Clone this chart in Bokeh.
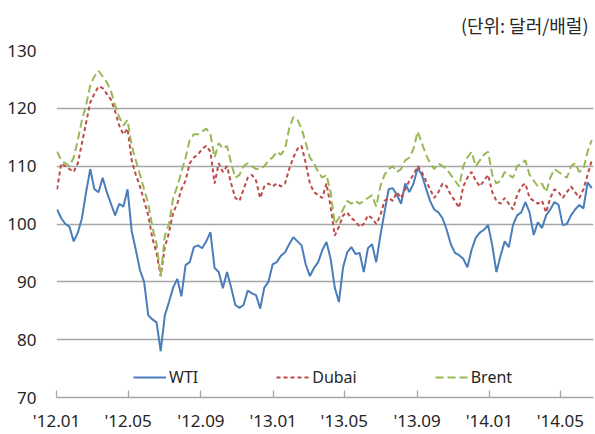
import pandas as pd
from bokeh.plotting import figure
from bokeh.models import (FixedTicker, DatetimeTickFormatter, Legend, LegendItem,
                          Title, Range1d, ColumnDataSource)
from bokeh.embed import file_html
from bokeh.resources import INLINE

# Weekly crude oil prices (USD/bbl), Jan 2012 - Jun 2014
dates = pd.date_range("2012-01-02", periods=130, freq="7D")

wti = [
    102.5, 101.0, 100.0, 99.5, 97.0, 98.5, 101.0, 105.5, 109.5, 106.0,
    105.5, 108.0, 105.5, 103.5, 101.5, 103.5, 103.0, 106.0, 98.8, 95.5,
    92.0, 90.0, 84.2, 83.5, 83.0, 78.0, 84.2, 86.5, 89.0, 90.5,
    87.5, 92.9, 93.4, 96.0, 96.3, 95.8, 97.0, 98.6, 92.4, 91.7,
    88.9, 91.7, 89.0, 86.0, 85.5, 86.0, 88.5, 88.0, 87.7, 85.4,
    89.0, 90.0, 93.0, 93.4, 94.5, 95.1, 96.5, 97.7, 97.0, 96.3,
    93.0, 91.0, 92.4, 93.4, 95.5, 96.9, 94.0, 89.0, 86.5, 92.5,
    95.1, 96.0, 94.8, 95.0, 91.7, 95.8, 96.5, 93.4, 98.0, 102.0,
    106.0, 106.2, 105.0, 103.5, 107.0, 105.5, 107.0, 109.7, 108.5, 106.2,
    104.0, 102.5, 102.0, 101.0, 99.0, 96.5, 95.0, 94.6, 94.0, 92.5,
    95.5, 97.6, 98.5, 99.0, 99.8, 96.3, 91.7, 94.5, 97.0, 96.0,
    99.8, 101.5, 102.0, 103.8, 102.0, 98.1, 100.3, 99.3, 101.5, 102.5,
    103.8, 103.3, 99.8, 100.0, 101.5, 102.5, 103.3, 102.7, 107.2, 106.2,
]

dubai = [
    106.0, 110.5, 110.0, 109.5, 109.0, 110.5, 114.0, 117.5, 121.0, 122.5,
    123.8, 123.5, 122.5, 121.5, 119.5, 117.0, 115.5, 116.5, 111.0, 108.5,
    106.5, 104.0, 101.5, 97.5, 95.0, 91.0, 96.0, 98.5, 102.0, 103.5,
    106.0, 107.5, 110.5, 111.5, 112.0, 113.0, 113.5, 112.5, 107.0, 110.5,
    109.0, 110.0, 107.0, 104.5, 104.0, 106.0, 108.0, 108.5, 107.5, 104.5,
    106.5, 107.0, 106.5, 107.0, 106.5, 107.0, 109.5, 111.5, 113.0, 113.5,
    110.5, 107.0, 105.5, 105.0, 104.5, 107.0, 103.0, 98.0, 99.5, 101.5,
    102.0, 101.0, 100.5, 99.5, 100.0, 101.5, 101.0, 100.0, 101.5, 104.0,
    104.5, 104.0, 105.5, 104.5, 106.0, 107.5, 108.5, 110.0, 109.0, 107.5,
    106.0, 104.5, 105.5, 107.0, 106.5, 105.0, 104.0, 102.8, 106.5, 108.0,
    109.0, 107.5, 106.5, 107.5, 108.5, 105.5, 104.0, 103.5, 104.5, 103.5,
    102.5, 105.0, 106.5, 107.0, 104.5, 104.0, 103.5, 104.0, 102.0, 104.5,
    106.0, 105.5, 104.5, 105.5, 106.5, 105.5, 104.5, 106.0, 108.5, 111.0,
]

brent = [
    112.5, 111.0, 110.5, 110.0, 111.5, 114.5, 118.0, 120.5, 124.0, 125.5,
    126.5, 125.5, 124.5, 123.0, 120.5, 118.5, 117.0, 118.0, 113.5, 111.0,
    108.5, 106.0, 103.5, 99.5, 96.5, 91.0, 98.0, 100.0, 104.5, 106.5,
    109.0, 111.5, 114.5, 115.5, 115.5, 116.0, 116.5, 115.5, 111.5, 114.0,
    113.0, 113.5, 110.5, 108.0, 108.5, 110.0, 110.5, 110.0, 109.5, 109.5,
    110.0, 111.0, 111.5, 112.5, 112.0, 113.0, 116.5, 118.5, 118.0, 116.5,
    114.0, 111.5, 110.5, 109.0, 108.0, 108.5, 105.5, 100.0, 101.0, 102.5,
    104.0, 103.5, 104.0, 103.5, 104.0, 104.5, 105.0, 103.0, 106.5, 108.5,
    109.5, 110.0, 109.0, 109.5, 111.0, 111.5, 113.0, 116.0, 114.0, 112.0,
    110.5, 109.5, 110.5, 110.0, 109.5, 108.5, 107.5, 106.5, 110.0, 111.5,
    112.5, 110.0, 111.0, 112.0, 112.5, 108.5, 107.0, 107.5, 109.0, 108.5,
    108.0, 110.0, 110.5, 111.0, 108.5, 107.5, 106.5, 107.0, 105.5, 108.0,
    109.5, 109.0, 108.5, 108.0, 110.0, 110.5, 109.0, 109.5, 112.5, 114.5,
]

tick_months = ["2012-01-01", "2012-05-01", "2012-09-01", "2013-01-01",
               "2013-05-01", "2013-09-01", "2014-01-01", "2014-05-01"]
y_ticks = [70, 80, 90, 100, 110, 120, 130]
unit_text = "(단위: 달러/배럴)"

src = ColumnDataSource(dict(date=dates, wti=wti, dubai=dubai, brent=brent))

x_start = pd.Timestamp("2012-01-01")
x_end = pd.Timestamp("2014-06-26")

p = figure(width=595, height=434, x_axis_type="datetime",
           x_range=Range1d(x_start, x_end), y_range=Range1d(70, 130),
           output_backend="svg", toolbar_location=None,
           min_border_left=56, min_border_right=2,
           min_border_top=50, min_border_bottom=37)
p.outline_line_color = None
p.background_fill_color = "white"
p.border_fill_color = "white"

text_color = "#262626"
font = "Noto Sans"

# unit note in the upper right corner
p.add_layout(Title(text=unit_text, align="right", vertical_align="top",
                   text_font="Noto Sans CJK KR", text_font_size="18px",
                   text_font_style="normal", text_color=text_color,
                   standoff=22, offset=5), "above")

# y axis: labels only, horizontal grid lines
p.yaxis.ticker = FixedTicker(ticks=y_ticks)
p.yaxis.axis_line_color = None
p.yaxis.major_tick_line_color = None
p.yaxis.minor_tick_line_color = None
p.yaxis.major_label_standoff = 14
p.yaxis.major_label_text_font = font
p.yaxis.major_label_text_font_size = "17px"
p.yaxis.major_label_text_color = text_color

p.ygrid.ticker = FixedTicker(ticks=y_ticks[1:])
p.ygrid.grid_line_color = "#a6a6a6"
p.ygrid.grid_line_width = 1.3
p.xgrid.grid_line_color = None

# x axis: month ticks every four months
tick_ms = [pd.Timestamp(t).value // 10**6 for t in tick_months]
p.xaxis.ticker = FixedTicker(ticks=tick_ms)
fmt = "'%y.%m"
p.xaxis.formatter = DatetimeTickFormatter(
    microseconds=fmt, milliseconds=fmt, seconds=fmt, minsec=fmt, minutes=fmt,
    hourmin=fmt, hours=fmt, days=fmt, months=fmt, years=fmt)
p.xaxis.axis_line_color = "#a6a6a6"
p.xaxis.axis_line_width = 1.3
p.xaxis.major_tick_line_color = "#a6a6a6"
p.xaxis.major_tick_line_width = 1.3
p.xaxis.major_tick_in = 7
p.xaxis.major_tick_out = 0
p.xaxis.minor_tick_line_color = None
p.xaxis.major_label_standoff = 11
p.xaxis.major_label_text_font = font
p.xaxis.major_label_text_font_size = "17px"
p.xaxis.major_label_text_color = text_color

# price lines
r_wti = p.line("date", "wti", source=src, line_color="#4a7ebb", line_width=2)
r_dubai = p.line("date", "dubai", source=src, line_color="#be4b48",
                 line_width=2, line_dash="4 3")
r_brent = p.line("date", "brent", source=src, line_color="#98b954",
                 line_width=2, line_dash="8 4")

legend = Legend(items=[LegendItem(label="WTI", renderers=[r_wti]),
                       LegendItem(label="Dubai", renderers=[r_dubai]),
                       LegendItem(label="Brent", renderers=[r_brent])],
                orientation="horizontal", location=(77, 9),
                spacing=78, glyph_width=33, glyph_height=20,
                label_height=20, label_standoff=3, padding=0, margin=0,
                border_line_color=None, background_fill_alpha=0,
                label_text_font=font, label_text_font_size="16px",
                label_text_color=text_color)
p.add_layout(legend, "center")

open("out.html", "w").write(file_html(p, INLINE))
